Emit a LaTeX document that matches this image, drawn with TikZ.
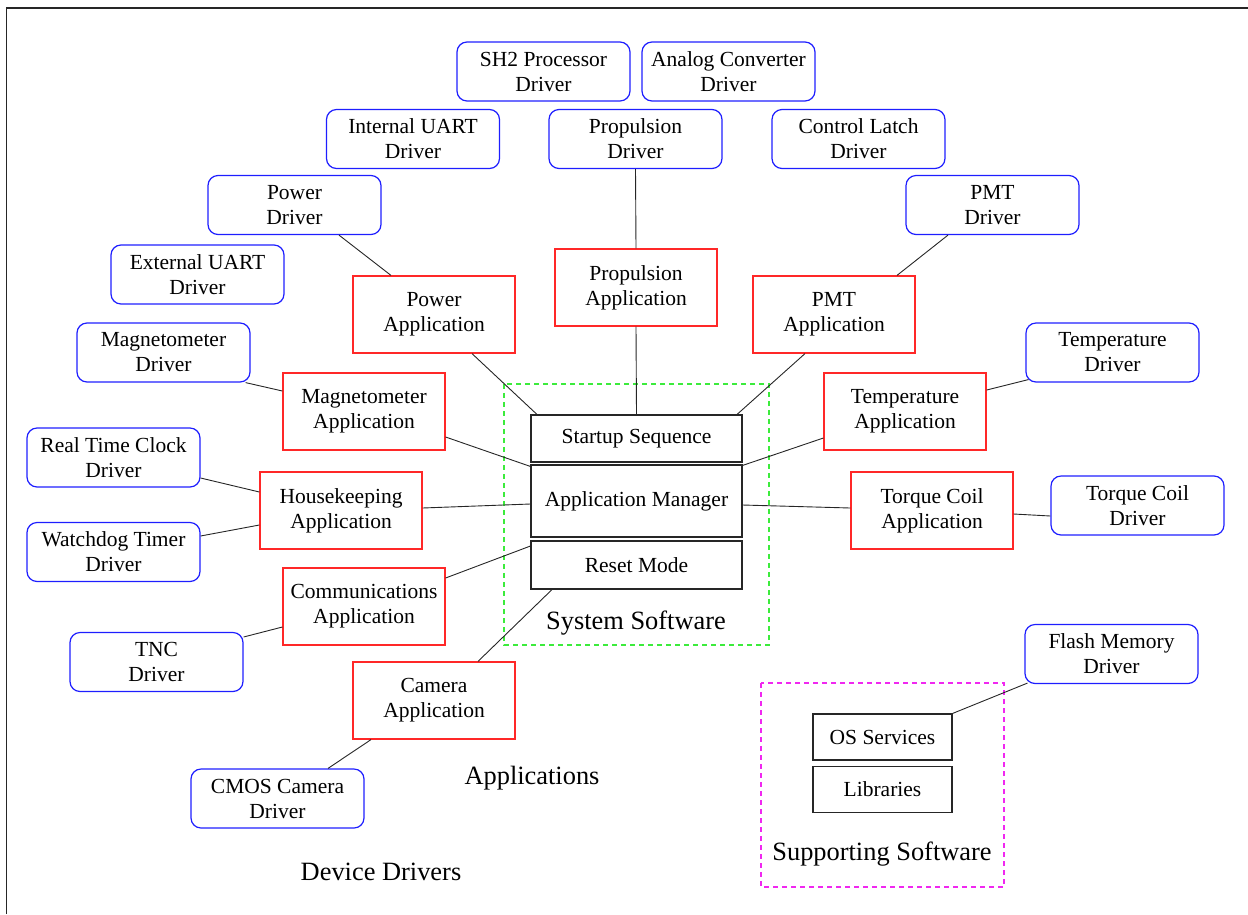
\documentclass[tikz,border=0pt]{standalone}
\usepackage{fontspec}
\setmainfont{Liberation Serif}
\definecolor{drvblue}{RGB}{30,30,255}
\definecolor{appred}{RGB}{255,40,40}
\definecolor{sysgreen}{RGB}{60,235,60}
\definecolor{supmagenta}{RGB}{240,40,240}
\begin{document}
\begin{tikzpicture}[x=1pt,y=-1pt,
  lbl/.style={font=\fontsize{21.5}{25}\selectfont, align=center, inner sep=0pt},
  drv/.style={lbl, draw=drvblue, line width=1.2pt, rounded corners=10pt,
              minimum width=173pt, minimum height=59pt},
  app/.style={lbl, draw=appred, line width=1.2pt,
              minimum width=162pt, minimum height=77pt},
  sysbox/.style={lbl, draw=black!85, line width=1.1pt, minimum width=211pt},
  supbox/.style={lbl, draw=black!85, line width=1.1pt, minimum width=139pt, minimum height=46pt},
  grouplbl/.style={font=\fontsize{26.4}{30}\selectfont, inner sep=0pt},
  conn/.style={draw=black!85, line width=0.9pt}]

\useasboundingbox (0,0) rectangle (1248,914);
\draw[line width=1.5pt, black!85] (6.5,914) -- (6.5,8) -- (1248,8);

% group outlines
\draw[sysgreen, line width=1.2pt, dash pattern=on 5pt off 4pt]
  (504,384) rectangle (769,645);
\draw[supmagenta, line width=1.2pt, dash pattern=on 5pt off 4pt]
  (761,683) rectangle (1004,887);

% system software
\node[sysbox, minimum height=47pt] (startup) at (636.5,438.5) {Startup Sequence};
\node[sysbox, minimum height=72pt] (appmgr) at (636.5,501) {Application Manager};
\node[sysbox, minimum height=48pt] (reset) at (636.5,565) {Reset Mode};
\node[grouplbl] (syslbl) at (636,623) {System Software};

% supporting software
\node[supbox] (ossvc) at (882.5,737) {OS Services};
\node[supbox] (libs) at (882.5,789.5) {Libraries};
\node[grouplbl] (suplbl) at (882,854) {Supporting Software};

% applications
\node[app] (prpapp) at (636,287.5) {Propulsion\\Application};
\node[app] (pwrapp) at (434,314.5) {Power\\Application};
\node[app] (pmtapp) at (834,314.5) {PMT\\Application};
\node[app] (magapp) at (364,411.5) {Magnetometer\\Application};
\node[app] (hkapp) at (341,510.5) {Housekeeping\\Application};
\node[app] (comapp) at (364,606.5) {Communications\\Application};
\node[app] (camapp) at (434,700.5) {Camera\\Application};
\node[app] (tmpapp) at (905,411.5) {Temperature\\Application};
\node[app] (tqapp) at (932,510.5) {Torque Coil\\Application};
\node[grouplbl] (applbl) at (532,778) {Applications};

% device drivers
\node[drv] (sh2drv) at (543.5,71.5) {SH2 Processor\\Driver};
\node[drv] (adcdrv) at (728.5,71.5) {Analog Converter\\Driver};
\node[drv] (iuartdrv) at (413,139) {Internal UART\\Driver};
\node[drv] (prpdrv) at (635.5,139) {Propulsion\\Driver};
\node[drv] (latchdrv) at (858.5,139) {Control Latch\\Driver};
\node[drv] (pwrdrv) at (294.5,205) {Power\\Driver};
\node[drv] (pmtdrv) at (992.5,205) {PMT\\Driver};
\node[drv] (euartdrv) at (197.5,274.5) {External UART\\Driver};
\node[drv] (magdrv) at (163.5,352.5) {Magnetometer\\Driver};
\node[drv] (rtcdrv) at (113.5,457.5) {Real Time Clock\\Driver};
\node[drv] (wdtdrv) at (113.5,552) {Watchdog Timer\\Driver};
\node[drv] (tncdrv) at (156.5,662) {TNC\\Driver};
\node[drv] (cmosdrv) at (277.5,798.5) {CMOS Camera\\Driver};
\node[drv] (tmpdrv) at (1112.5,352.5) {Temperature\\Driver};
\node[drv] (tqdrv) at (1137.5,505.5) {Torque Coil\\Driver};
\node[drv] (flashdrv) at (1111.5,654) {Flash Memory\\Driver};
\node[grouplbl] (drvlbl) at (381,872) {Device Drivers};

% drivers to applications
\draw[conn] ([xshift=44.5pt]pwrdrv.south) -- ([xshift=-43pt]pwrapp.north);
\draw[conn] (prpdrv.south) -- (prpapp.north);
\draw[conn] ([xshift=-44.5pt]pmtdrv.south) -- ([xshift=63pt]pmtapp.north);
\draw[conn] ([xshift=-5pt]magdrv.south east) -- ([yshift=20.5pt]magapp.west);
\draw[conn] ([yshift=-20.5pt]rtcdrv.east) -- ([yshift=18.5pt]hkapp.west);
\draw[conn] ([yshift=16pt]wdtdrv.east) -- ([yshift=-14.5pt]hkapp.west);
\draw[conn] ([yshift=25pt]tncdrv.east) -- ([yshift=-20.5pt]comapp.west);
\draw[conn] ([xshift=-63pt]camapp.south) -- ([xshift=50.5pt]cmosdrv.north);
\draw[conn] ([yshift=21.5pt]tmpapp.east) -- ([xshift=3pt,yshift=3pt]tmpdrv.south west);
\draw[conn] ([yshift=-3.5pt]tqapp.east) -- ([yshift=-10.5pt]tqdrv.west);
\draw[conn] (ossvc.north east) -- ([xshift=3pt,yshift=1pt]flashdrv.south west);

% applications to system software
\draw[conn] ([xshift=38pt]pwrapp.south) -- ([xshift=-99.5pt]startup.north);
\draw[conn] (prpapp.south) -- (startup.north);
\draw[conn] ([xshift=-29pt]pmtapp.south) -- ([xshift=100.5pt]startup.north);
\draw[conn] ([yshift=-25.5pt]magapp.east) -- ([yshift=-2pt]appmgr.north west);
\draw[conn] ([yshift=2.5pt]hkapp.east) -- ([yshift=-3pt]appmgr.west);
\draw[conn] ([yshift=28.5pt]comapp.east) -- ([yshift=19pt]reset.west);
\draw[conn] ([xshift=44pt]camapp.north) -- ([xshift=-84.5pt]reset.south);
\draw[conn] ([yshift=-26.5pt]tmpapp.west) -- ([yshift=-1pt]appmgr.north east);
\draw[conn] ([yshift=-4pt]appmgr.east) -- ([yshift=2.5pt]tqapp.west);
\end{tikzpicture}
\end{document}
